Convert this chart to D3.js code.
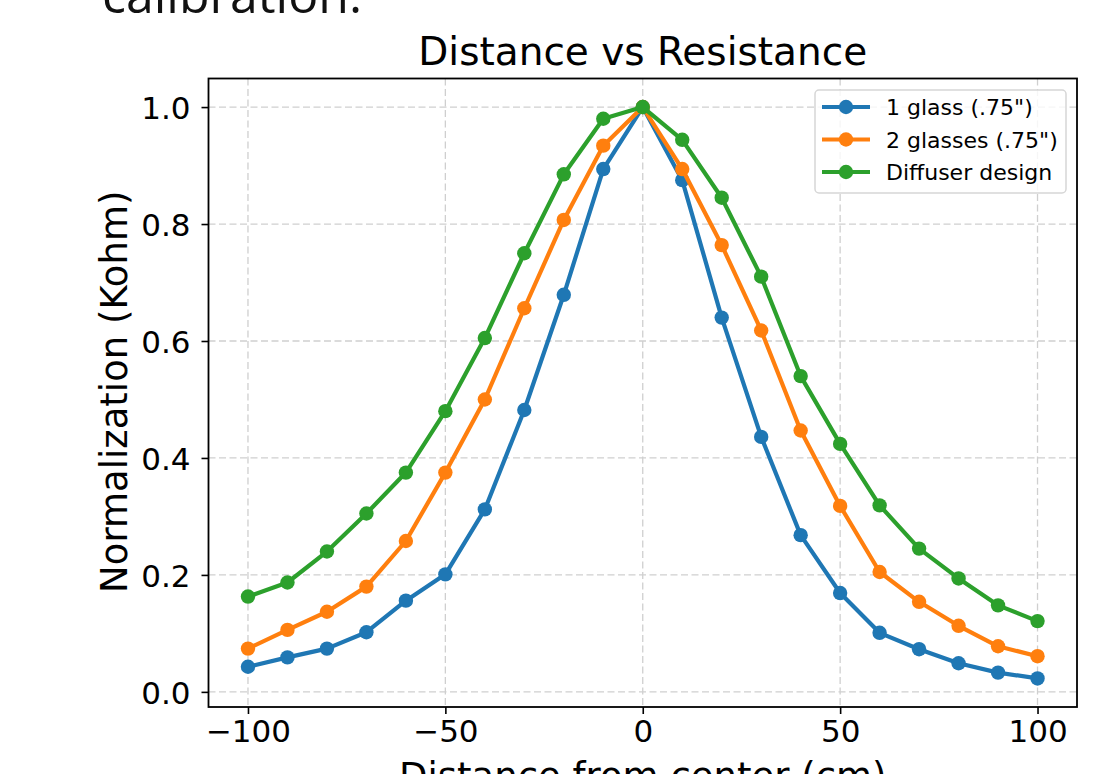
<!DOCTYPE html>
<html>
<head>
<meta charset="utf-8">
<script src="https://cdn.jsdelivr.net/npm/d3@7"></script>
<style>
  body { margin: 0; background: #fff; }
  svg { display: block; }
</style>
</head>
<body>
<div id="visContainer"></div>
<script>
// values
const distances = [-100, -90, -80, -70, -60, -50, -40, -30, -20, -10, 0, 10, 20, 30, 40, 50, 60, 70, 80, 90, 100];
const oneGlass = [0.043, 0.059, 0.074, 0.102, 0.156, 0.201, 0.312, 0.482, 0.679, 0.894, 1.0, 0.875, 0.640, 0.436, 0.268, 0.169, 0.101, 0.073, 0.049, 0.033, 0.023];
const twoGlasses = [0.074, 0.106, 0.137, 0.180, 0.258, 0.375, 0.500, 0.656, 0.807, 0.934, 1.0, 0.894, 0.764, 0.618, 0.447, 0.318, 0.205, 0.154, 0.113, 0.078, 0.061];
const diffuser = [0.163, 0.187, 0.240, 0.305, 0.375, 0.480, 0.605, 0.750, 0.885, 0.980, 1.0, 0.944, 0.845, 0.710, 0.540, 0.424, 0.319, 0.245, 0.194, 0.148, 0.121];
const seriesNames = ["1 glass (.75\")", "2 glasses (.75\")", "Diffuser design"];
const seriesColors = ["#1f77b4", "#ff7f0e", "#2ca02c"];
const xTicks = [-100, -50, 0, 50, 100];
const yTicks = [0, 0.2, 0.4, 0.6, 0.8, 1.0];

function makeVis() {
  const width = 1116;
  const height = 774;
  const box = { left: 208.5, right: 1077, top: 78.5, bottom: 707 };
  const font = "DejaVu Sans, sans-serif";

  const svg = d3.create("svg")
    .attr("width", width)
    .attr("height", height);
  document.querySelector("#visContainer").append(svg.node());

  const series = [oneGlass, twoGlasses, diffuser];

  // matplotlib style 5% padding
  const xExt = d3.extent(distances);
  const xPad = (xExt[1] - xExt[0]) * 0.05;
  const yExt = d3.extent(series.flat());
  const yPad = (yExt[1] - yExt[0]) * 0.05;

  const xScale = d3.scaleLinear().domain([xExt[0] - xPad, xExt[1] + xPad]).range([box.left, box.right]);
  const yScale = d3.scaleLinear().domain([yExt[0] - yPad, yExt[1] + yPad]).range([box.bottom, box.top]);

  // text of the page around the figure, cut off like in the screenshot
  svg.append("text")
    .attr("x", 102).attr("y", 13)
    .attr("font-family", "Open Sans, sans-serif")
    .attr("font-size", 50)
    .attr("fill", "#111")
    .text("calibration.");

  // grid
  const grid = svg.append("g")
    .attr("stroke", "#cfcfcf")
    .attr("stroke-width", 1.3)
    .attr("stroke-dasharray", "7,3.5");
  grid.selectAll(".gx").data(xTicks).join("line")
    .attr("x1", d => xScale(d)).attr("x2", d => xScale(d))
    .attr("y1", box.top).attr("y2", box.bottom);
  grid.selectAll(".gy").data(yTicks).join("line")
    .attr("y1", d => yScale(d)).attr("y2", d => yScale(d))
    .attr("x1", box.left).attr("x2", box.right);

  // lines + markers
  const line = d3.line()
    .x((d, i) => xScale(distances[i]))
    .y(d => yScale(d));

  series.forEach((s, k) => {
    svg.append("path")
      .datum(s)
      .attr("d", line)
      .attr("fill", "none")
      .attr("stroke", seriesColors[k])
      .attr("stroke-width", 4.2)
      .attr("stroke-linejoin", "round");
    svg.append("g").selectAll("circle")
      .data(s)
      .join("circle")
      .attr("cx", (d, i) => xScale(distances[i]))
      .attr("cy", d => yScale(d))
      .attr("r", 7.2)
      .attr("fill", seriesColors[k]);
  });

  // axes
  const xAxis = svg.append("g")
    .attr("transform", `translate(0,${box.bottom})`)
    .call(d3.axisBottom(xScale).tickValues(xTicks).tickSize(7).tickPadding(6)
      .tickFormat(d => String(d).replace("-", "\u2212")));
  const yAxis = svg.append("g")
    .attr("transform", `translate(${box.left},0)`)
    .call(d3.axisLeft(yScale).tickValues(yTicks).tickSize(7).tickPadding(11)
      .tickFormat(d3.format(".1f")));

  [xAxis, yAxis].forEach(a => {
    a.select(".domain").remove();
    a.selectAll(".tick line").attr("stroke", "#000").attr("stroke-width", 1.6);
    a.selectAll(".tick text")
      .attr("font-family", font)
      .attr("font-size", 31)
      .attr("fill", "#000");
  });
  xAxis.selectAll(".tick text").attr("dy", "0.71em");
  yAxis.selectAll(".tick text").attr("dy", "0.36em");

  // frame
  svg.append("rect")
    .attr("x", box.left).attr("y", box.top)
    .attr("width", box.right - box.left)
    .attr("height", box.bottom - box.top)
    .attr("fill", "none")
    .attr("stroke", "#000")
    .attr("stroke-width", 1.8);

  // titles
  svg.append("text")
    .attr("x", (box.left + box.right) / 2).attr("y", 65)
    .attr("text-anchor", "middle")
    .attr("font-family", font).attr("font-size", 39)
    .text("Distance vs Resistance");

  svg.append("text")
    .attr("x", (box.left + box.right) / 2).attr("y", 789)
    .attr("text-anchor", "middle")
    .attr("font-family", font).attr("font-size", 37)
    .text("Distance from center (cm)");

  svg.append("text")
    .attr("transform", `translate(127,${(box.top + box.bottom) / 2 - 1}) rotate(-90)`)
    .attr("text-anchor", "middle")
    .attr("font-family", font).attr("font-size", 37)
    .text("Normalization (Kohm)");

  // legend
  const legend = svg.append("g").attr("transform", "translate(815,90)");
  legend.append("rect")
    .attr("width", 251).attr("height", 103)
    .attr("rx", 4)
    .attr("fill", "#fff").attr("fill-opacity", 0.8)
    .attr("stroke", "#d6d6d6").attr("stroke-width", 1.5);

  const rows = legend.selectAll(".row")
    .data(seriesNames)
    .join("g")
    .attr("transform", (d, i) => `translate(0,${17 + i * 32.5})`);
  rows.append("line")
    .attr("x1", 7).attr("x2", 55)
    .attr("stroke", (d, i) => seriesColors[i])
    .attr("stroke-width", 4.2);
  rows.append("circle")
    .attr("cx", 31).attr("r", 7.2)
    .attr("fill", (d, i) => seriesColors[i]);
  rows.append("text")
    .attr("x", 71).attr("y", 8)
    .attr("font-family", font).attr("font-size", 22)
    .attr("fill", "#000")
    .text(d => d);
}

makeVis();
</script>
</body>
</html>
